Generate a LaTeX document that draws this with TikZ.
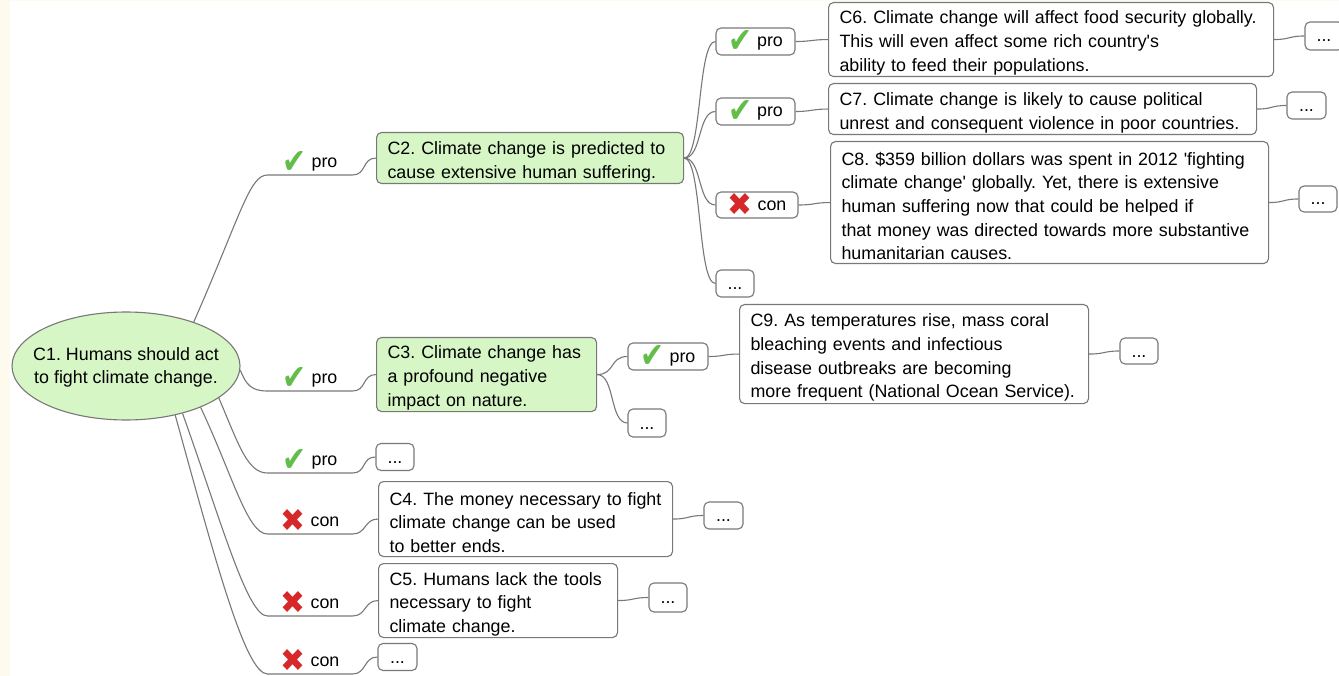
\documentclass[tikz,border=0pt]{standalone}
\usepackage{fontspec}
\usepackage{graphicx}
\setmainfont{Liberation Sans}
\newfontfamily\dejavu{DejaVu Sans}
\usetikzlibrary{shapes.geometric}
\definecolor{bgcream}{RGB}{255,250,238}
\definecolor{claimgreen}{RGB}{214,246,198}
\definecolor{linegray}{RGB}{120,120,120}
\definecolor{checkgreen}{RGB}{98,190,72}
\definecolor{crossred}{RGB}{214,40,40}
\newcommand{\promark}{\raisebox{-5.5pt}{\resizebox{24pt}{22pt}{\dejavu\textcolor{checkgreen}{✔}}}}
\newcommand{\conmark}{\raisebox{-5pt}{\resizebox{25pt}{22pt}{\dejavu\textcolor{crossred}{✖}}}}

\begin{document}
\frenchspacing\hyphenpenalty=10000\relax
\begin{tikzpicture}[x=1pt, y=-1pt, line width=1.1pt,
  every node/.style={font=\fontsize{17.85}{23.7}\selectfont},
  claim/.style={draw=linegray, rounded corners=5pt, align=left, inner xsep=11pt,
                inner ysep=0pt, anchor=north west,
                execute at begin node={\rule{0pt}{20pt}}},
  tag/.style={anchor=south, minimum width=84pt, inner sep=0pt, text depth=6.5pt},
  tagbox/.style={draw=linegray, fill=white, rounded corners=5pt, minimum height=27pt,
                 inner sep=0pt},
  dots/.style={draw=linegray, fill=white, rounded corners=5pt, minimum width=38pt,
               minimum height=27pt, inner sep=0pt, text height=14pt, text depth=2pt},
  link/.style={draw=linegray}]
  \useasboundingbox (0,0) rectangle (1339,676);
  \fill[bgcream] (0,0) rectangle (1339,676);
  \fill[white] (10,1) rectangle (1339,676);

  % root
  \node (c1) [ellipse, draw=linegray, fill=claimgreen, minimum width=228pt,
             minimum height=108pt, inner sep=0pt] at (126,366)
             {\makebox[120pt]{\begin{tabular}{@{}c@{}}\rule{0pt}{19pt}C1. Humans should act\\to fight climate change.\end{tabular}}};

  % first level
  \node (c2) [claim, fill=claimgreen, text width=285pt, minimum height=51pt] at (376,132)
             {C2. Climate change is predicted to\\cause extensive human suffering.};
  \node (c3) [claim, fill=claimgreen, text width=198pt, minimum height=74pt] at (376,337)
             {C3. Climate change has\\a profound negative\\impact on nature.};
  \node (c4) [claim, text width=272pt, minimum height=75pt] at (378,481)
             {C4. The money necessary to fight\\climate change can be used\\to better ends.};
  \node (c5) [claim, text width=217pt, minimum height=74pt] at (378,563)
             {C5. Humans lack the tools\\necessary to fight\\climate change.};
  \node (dp) [dots] at (395,457) {...};
  \node (dc) [dots, minimum width=39pt] at (397.5,657) {...};

  \node (l2) [tag] at (310,175) {\promark\hspace{5pt}pro};
  \node (l3) [tag] at (310,391) {\promark\hspace{5pt}pro};
  \node (lp) [tag] at (310,473) {\promark\hspace{5pt}pro};
  \node (l4) [tag] at (310,534) {\conmark\hspace{5pt}con};
  \node (l5) [tag] at (310,616) {\conmark\hspace{5pt}con};
  \node (lc) [tag] at (310,674) {\conmark\hspace{5pt}con};

  % second level
  \node (p6) [tagbox, minimum width=79pt] at (755.5,41.5) {\promark\hspace{5pt}pro};
  \node (p7) [tagbox, minimum width=79pt] at (755.5,111.5) {\promark\hspace{5pt}pro};
  \node (k8) [tagbox, minimum width=82pt, minimum height=26pt] at (757,205) {\conmark\hspace{5pt}con};
  \node (d2) [dots] at (735,283.5) {...};
  \node (p9) [tagbox, minimum width=80pt] at (668,356.5) {\promark\hspace{5pt}pro};
  \node (d3) [dots, minimum height=28pt] at (647,423) {...};

  \node (c6) [claim, text width=423pt, minimum height=74pt] at (828,2)
             {C6. Climate change will affect food security globally.\\This will even affect some rich country\textquotesingle s\\ability to feed their populations.};
  \node (c7) [claim, text width=406pt, minimum height=51pt] at (828,83)
             {C7. Climate change is likely to cause political\\unrest and consequent violence in poor countries.};
  \node (c8) [claim, text width=416pt, minimum height=122pt] at (830,141)
             {C8. \$359 billion dollars was spent in 2012 \textquotesingle fighting\\climate change\textquotesingle{} globally. Yet, there is extensive\\human suffering now that could be helped if\\that money was directed towards more substantive\\humanitarian causes.};
  \node (c9) [claim, text width=327pt, minimum height=99pt] at (739,304)
             {C9. As temperatures rise, mass coral\\bleaching events and infectious\\disease outbreaks are becoming\\more frequent (National Ocean Service).};

  % open ends
  \node (e6) [dots, minimum height=28pt] at (1324,36) {...};
  \node (e7) [dots, minimum width=39pt] at (1306.5,105.5) {...};
  \node (e8) [dots, minimum height=26pt] at (1318,199) {...};
  \node (e9) [dots, minimum height=26pt] at (1139,351) {...};
  \node (e4) [dots, minimum width=39pt] at (723.5,515.5) {...};
  \node (e5) [dots, minimum height=29pt] at (668,597.5) {...};

  % connectors from the root
  \draw[link] (c1.33) .. controls +(47,-107) and +(-18,0) .. (l2.south west)
              -- (l2.south east) .. controls +(14,0) and +(-14,0) .. (c2.west);
  \draw[link] (c1.-2) .. controls +(6,15) and +(-16,0) .. (l3.south west)
              -- (l3.south east) .. controls +(14,0) and +(-14,0) .. (c3.west);
  \draw[link] (c1.-19) .. controls +(20,47) and +(-20,0) .. (lp.south west)
              -- (lp.south east) .. controls +(14,0) and +(-14,0) .. (dp.west);
  \draw[link] (c1.-29) .. controls +(32,68) and +(-20,0) .. (l4.south west)
              -- (l4.south east) .. controls +(14,0) and +(-14,0) .. (c4.west);
  \draw[link] (c1.-40) .. controls +(40,112) and +(-20,0) .. (l5.south west)
              -- (l5.south east) .. controls +(14,0) and +(-14,0) .. (c5.west);
  \draw[link] (c1.-45) .. controls +(40,145) and +(-22,0) .. (lc.south west)
              -- (lc.south east) .. controls +(14,0) and +(-14,0) .. (dc.west);

  % fans and short links
  \foreach \t in {p6,p7,k8,d2}
    \draw[link] (c2.east) .. controls +(18,0) and +(-18,0) .. (\t.west);
  \foreach \t in {p9,d3}
    \draw[link] (c3.east) .. controls +(18,0) and +(-18,0) .. (\t.west);
  \foreach \a/\b in {p6/c6, p7/c7, k8/c8, p9/c9, c6/e6, c7/e7, c8/e8, c9/e9, c4/e4, c5/e5}
    \draw[link] (\a.east) .. controls +(16,0) and +(-16,0) .. (\b.west);
\end{tikzpicture}
\end{document}
